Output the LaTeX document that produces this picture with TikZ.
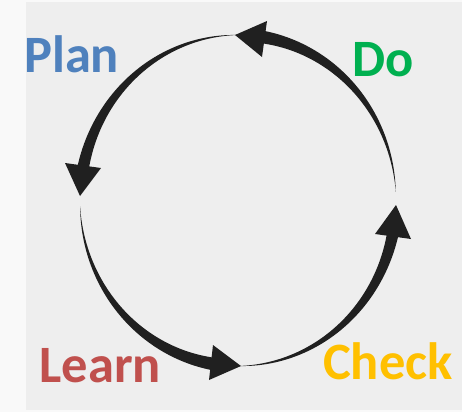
\documentclass[tikz,border=0pt]{standalone}
\usepackage{fontspec}
\setmainfont{Carlito}
\definecolor{ink}{HTML}{202020}
\definecolor{panel}{HTML}{EEEEEE}
\definecolor{side}{HTML}{F9F9F9}
\definecolor{planblue}{HTML}{4F81BD}
\definecolor{dogreen}{HTML}{00B050}
\definecolor{checkgold}{HTML}{FFC000}
\definecolor{learnred}{HTML}{C0504D}
\tikzset{lab/.style={anchor=base west,inner sep=0pt,font=\fontsize{52.5}{52.5}\selectfont\bfseries}}
% #1 start angle, #2 shoulder angle (inside the head), #3 shaft width, #4-#9 head corners
\newcommand\sweep[9]{%
  \fill[ink] plot[variable=\t,domain=#1:#2,samples=50,smooth]
    ({238+(158+#3/2*((\t-(#1))/((#2)-(#1))))*cos(\t)},{200.5+(165.5+#3/2*((\t-(#1))/((#2)-(#1))))*sin(\t)})
    -- plot[variable=\t,domain=#2:#1,samples=50,smooth]
    ({238+(158-#3/2*((\t-(#1))/((#2)-(#1))))*cos(\t)},{200.5+(165.5-#3/2*((\t-(#1))/((#2)-(#1))))*sin(\t)})
    -- cycle;
  \fill[ink] (#4,#5) -- (#6,#7) -- (#8,#9) -- cycle;}
\begin{document}
\begin{tikzpicture}[x=1pt,y=-1pt]
\useasboundingbox (0,0) rectangle (462,412);
\fill[side] (0,0) rectangle (462,412);
\fill[panel] (26,2) rectangle (462,410);
\sweep{-90}{-171}{12}{65}{163}{101}{168}{80}{196}
\sweep{-3}{-83}{13}{267}{21}{262}{57}{235}{35}
\sweep{178}{97}{13}{213}{345}{209}{380}{241}{366}
\sweep{90}{9}{12}{375}{234}{411}{239}{396}{205}
\node[lab,text=planblue] (plan) at (24,72) {Plan};
\node[lab,text=dogreen] (do) at (352,76) {Do};
\node[lab,text=learnred] (learn) at (39.5,382) {Learn};
\node[lab,text=checkgold] (check) at (323,379) {Check};
\end{tikzpicture}
\end{document}
